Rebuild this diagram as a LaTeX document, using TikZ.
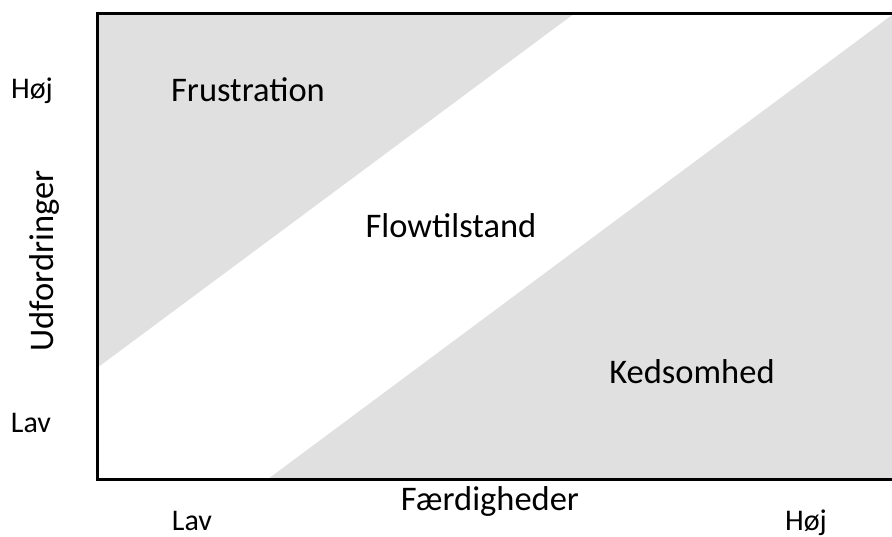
\documentclass[tikz,border=0pt]{standalone}
\usepackage{fontspec}
\setmainfont{Carlito}
\usepackage{xcolor}
\usepackage{tikz}
\definecolor{zonegray}{RGB}{224,224,224}

\begin{document}
\begin{tikzpicture}[x=1pt, y=-1pt]
  \tikzstyle{txt} = [inner sep=0pt, anchor=base, font=\fontsize{34.5}{40}\selectfont]
  \tikzstyle{tick} = [inner sep=0pt, anchor=base, font=\fontsize{30}{36}\selectfont]
  \tikzstyle{axis} = [line width=3pt, line cap=rect]

  \useasboundingbox (0,0) rectangle (892,536);

  \coordinate (tl) at (97,13);
  \coordinate (tr) at (892,13);
  \coordinate (bl) at (97,479);
  \coordinate (br) at (892,479);

  \fill[zonegray] (tl) -- (575,13) -- (97,368) -- cycle;
  \fill[zonegray] (268,479) -- (br) -- (892,15) -- cycle;

  \draw[axis] (tr) -- (tl) -- (bl) -- (br);

  \node[txt] (frustration) at (248,101) {Frustration};
  \node[txt] (flow) at (451,237) {Flowtilstand};
  \node[txt] (kedsomhed) at (692,383) {Kedsomhed};

  \node[txt, rotate=90] (udford) at (53,261) {Udfordringer};
  \node[tick] (hojY) at (32,98) {Høj};
  \node[tick] (lavY) at (31,432) {Lav};

  \node[txt] (faerdig) at (490,510) {Færdigheder};
  \node[tick] (lavX) at (192,530) {Lav};
  \node[tick] (hojX) at (806,530) {Høj};
\end{tikzpicture}
\end{document}
